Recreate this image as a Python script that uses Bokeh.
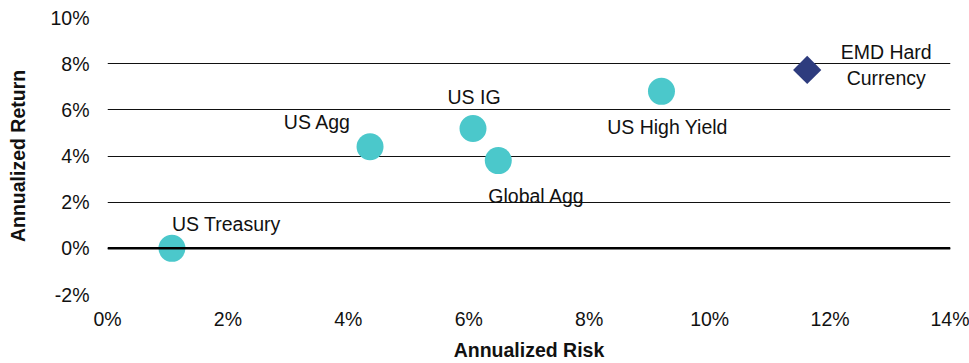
import math
from bokeh.plotting import figure
from bokeh.models import ColumnDataSource, Span, FixedTicker, CustomJSTickFormatter, Range1d
from bokeh.core.properties import value
from bokeh.embed import file_html
from bokeh.resources import INLINE

# ---- data ----
names = ["US Treasury", "US Agg", "US IG", "Global Agg", "US High Yield"]
risk = [1.07, 4.36, 6.07, 6.49, 9.20]
ret = [0.00, 4.40, 5.19, 3.80, 6.80]

emd_name = ["EMD Hard\nCurrency"]
emd_risk = [11.62]
emd_ret = [7.73]

x_ticks = [0, 2, 4, 6, 8, 10, 12, 14]
y_ticks = [-2, 0, 2, 4, 6, 8, 10]

# label placement (pixels)
lab_dx = [0, -19, 1, -10, 6]
lab_dy = [-24, -25, -32, 35, 36]
lab_align = ["left", "right", "center", "left", "center"]

FONT = "Liberation Sans"

p = figure(width=969, height=363, output_backend="svg", toolbar_location=None,
           x_range=Range1d(0, 14), y_range=Range1d(-2, 10),
           min_border_left=107, min_border_right=19, min_border_top=17, min_border_bottom=69)
p.outline_line_color = None
p.background_fill_color = "white"
p.border_fill_color = "white"

src = ColumnDataSource(dict(x=risk, y=ret, name=names, dx=lab_dx, dy=lab_dy, al=lab_align))
esrc = ColumnDataSource(dict(x=emd_risk, y=emd_ret, name=emd_name))

# grid
p.xgrid.grid_line_color = None
p.ygrid.ticker = FixedTicker(ticks=y_ticks)
p.ygrid.grid_line_color = "#111111"
p.ygrid.grid_line_width = 1.2
p.add_layout(Span(location=0, dimension="width", line_color="black", line_width=2.5))

# axes
fmt = CustomJSTickFormatter(code="return tick.toFixed(0) + '%';")
for ax in (p.xaxis[0], p.yaxis[0]):
    ax.formatter = fmt
    ax.axis_line_color = None
    ax.major_tick_line_color = None
    ax.minor_tick_line_color = None
    ax.major_tick_in = 0
    ax.major_tick_out = 0
    ax.major_label_text_font = FONT
    ax.major_label_text_font_size = "19.5px"
    ax.major_label_text_color = "#111111"
    ax.axis_label_text_font = FONT
    ax.axis_label_text_font_size = "19.5px"
    ax.axis_label_text_font_style = "bold"
    ax.axis_label_text_color = "#111111"
p.xaxis[0].ticker = FixedTicker(ticks=x_ticks)
p.yaxis[0].ticker = FixedTicker(ticks=y_ticks)
p.xaxis[0].axis_label = "Annualized Risk"
p.yaxis[0].axis_label = "Annualized Return"
p.xaxis[0].major_label_standoff = 13
p.yaxis[0].major_label_standoff = 18
p.xaxis[0].axis_label_standoff = 6
p.yaxis[0].axis_label_standoff = 18

# markers
p.scatter("x", "y", source=src, marker="circle", size=27, fill_color="#4BC8CB", line_color=None)
p.scatter("x", "y", source=esrc, marker="square", size=20, angle=math.pi / 4,
          fill_color="#2E3C7E", line_color=None)

# labels
p.text("x", "y", text="name", source=src, x_offset="dx", y_offset="dy", text_align="al",
       text_baseline="middle", text_font=value(FONT), text_font_size="19.5px", text_color="#111111")
p.text("x", "y", text="name", source=esrc, x_offset=79, y_offset=-5, text_align="center",
       text_baseline="middle", text_font=value(FONT), text_font_size="19.5px", text_color="#111111",
       text_line_height=1.2)

open("out.html", "w").write(file_html(p, INLINE))
